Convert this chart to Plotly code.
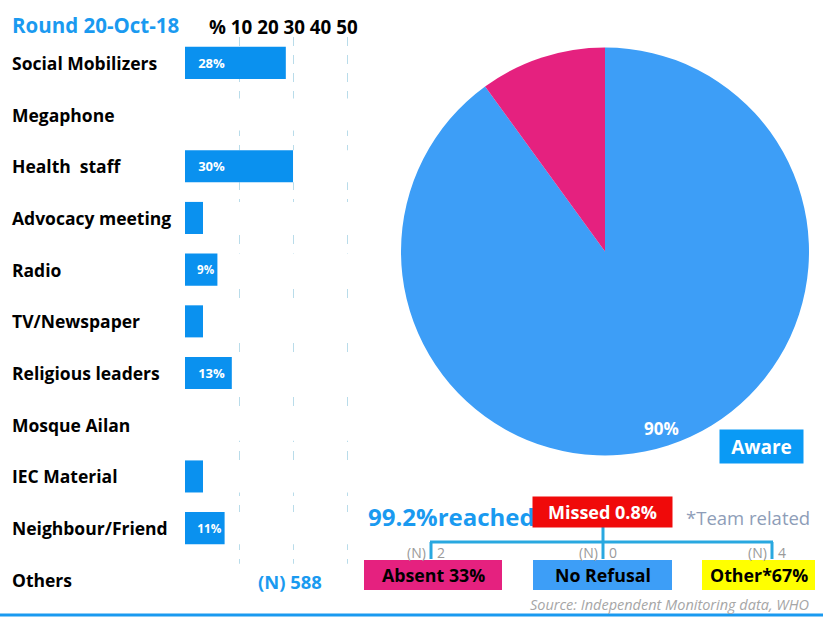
import plotly.graph_objects as go

W, H = 823, 618
def px(x): return x / W
def py(y): return 1 - y / H

# ---- data ----
channels = ["Social Mobilizers", "Megaphone", "Health  staff", "Advocacy meeting", "Radio",
            "TV/Newspaper", "Religious leaders", "Mosque Ailan", "IEC Material",
            "Neighbour/Friend", "Others"]
channel_pct = [28, 0, 30, 5, 9, 5, 13, 0, 5, 11, 0]
channel_lbl = ["28%", "", "30%", "", "9%", "", "13%", "", "", "11%", ""]
total_n = 588

aware_labels = ["Aware", "Not aware"]
aware_values = [90, 10]

reached_pct = 99.2
missed_pct = 0.8
missed_reasons = ["Absent", "No Refusal", "Other*"]
missed_share = ["33%", "", "67%"]
missed_n = [2, 0, 4]

BLUE = "#0a91ef"
TITLE_BLUE = "#1a9af0"
PIE_BLUE = "#3d9ef7"
MAGENTA = "#e5217f"
FONT = "Open Sans"

# row layout: pitch ~51.7 px starting at y=37; plot area stops at the last gap (y=564)
TOP, PITCH, BOTTOM = 37, 51.7, 564
y_end = -0.5 + (BOTTOM - TOP) / PITCH

fig = go.Figure()

# white row bands hide the dashed gridlines inside rows
fig.add_trace(go.Bar(y=channels[1:], x=[100] * (len(channels) - 1), orientation="h",
                     marker=dict(color="white", line_width=0), width=0.62,
                     hoverinfo="skip", showlegend=False))
fig.add_trace(go.Bar(y=channels, x=channel_pct, orientation="h",
                     marker=dict(color=BLUE, line_width=0), width=0.62,
                     text=["   " + t if t else "" for t in channel_lbl],
                     textposition="inside", insidetextanchor="start",
                     textfont=dict(color="white", size=13, family=FONT),
                     texttemplate="<b>%{text}</b>", cliponaxis=False,
                     showlegend=False))

fig.add_trace(go.Pie(labels=aware_labels, values=aware_values, sort=False,
                     direction="clockwise", rotation=0,
                     marker=dict(colors=[PIE_BLUE, MAGENTA], line_width=0),
                     textinfo="none", showlegend=False,
                     domain=dict(x=[px(401), px(809)], y=[py(457), py(46)])))

fig.update_layout(
    width=W, height=H, margin=dict(l=0, r=0, t=0, b=0),
    paper_bgcolor="white", plot_bgcolor="white", barmode="overlay",
    xaxis=dict(domain=[px(185), px(360)], range=[0, 48.6], dtick=15, tick0=0,
               showgrid=True, gridcolor="#b9dcea", griddash="dash", gridwidth=1,
               showticklabels=False, zeroline=False, showline=False),
    yaxis=dict(domain=[py(BOTTOM), py(TOP)], categoryorder="array",
               categoryarray=channels, range=[y_end, -0.5],
               showticklabels=False, showgrid=False, zeroline=False),
    font=dict(family=FONT),
)

ann = []
def note(x, y, text, size, color, xanchor="center", **kw):
    ann.append(dict(x=px(x), y=py(y), xref="paper", yref="paper", text=text,
                    showarrow=False, xanchor=xanchor, yanchor="middle",
                    font=dict(size=size, color=color, family=FONT), **kw))

for i, c in enumerate(channels):
    note(10, TOP + (i + 0.5) * PITCH, f"<b>{c}</b>", 17.5, "black", "left")

note(10, 25, "<b>Round 20-Oct-18</b>", 20.5, TITLE_BLUE, "left")
note(207, 27, "<b>% 10 20 30 40 50</b>", 18.8, "black", "left")
note(290, 581, f"<b>(N) {total_n}</b>", 18.4, TITLE_BLUE)

# pie labels
note(661, 428, f"<b>{aware_values[0]}%</b>", 17, "white")
note(761, 446, f"<b>{aware_labels[0]}</b>", 19, "white",
     bgcolor="#0a9af5", width=81, height=31)

# reached / missed
note(366, 516, f"<b>{reached_pct}%reached</b>", 24, TITLE_BLUE, "left")
note(602.5, 512, f"<b>Missed {missed_pct}%</b>", 18, "white",
     bgcolor="#f00a0a", width=137, height=28)
note(812, 517, "*Team related", 18.5, "#8e9db8", "right")

box_x = [(364, 502), (533, 672), (702, 815)]
box_col = [MAGENTA, PIE_BLUE, "#ffff00"]
stem_x = [431, 603, 772]
for i, r in enumerate(missed_reasons):
    x0, x1 = box_x[i]
    if missed_share[i]:
        label = f"{r}{missed_share[i]}" if r.endswith("*") else f"{r} {missed_share[i]}"
    else:
        label = r
    fig.add_shape(type="rect", xref="paper", yref="paper", x0=px(x0), x1=px(x1),
                  y0=py(590), y1=py(560), fillcolor=box_col[i], line_width=0,
                  layer="below")
    note((x0 + x1) / 2, 575, f"<b>{label}</b>", 17.8, "black")
    note(stem_x[i] - 3, 552, "(N)", 14, "#9a9a9a", "right")
    note(stem_x[i] + 4, 552, str(missed_n[i]), 14, "#9a9a9a", "left")
    fig.add_shape(type="line", xref="paper", yref="paper", x0=px(stem_x[i]), x1=px(stem_x[i]),
                  y0=py(542), y1=py(559), line=dict(color="#29a8e0", width=3))

fig.add_shape(type="line", xref="paper", yref="paper", x0=px(430), x1=px(773),
              y0=py(542), y1=py(542), line=dict(color="#29a8e0", width=3))
fig.add_shape(type="line", xref="paper", yref="paper", x0=px(603), x1=px(603),
              y0=py(527), y1=py(542), line=dict(color="#29a8e0", width=3))

note(811, 604, "<i>Source: Independent Monitoring data, WHO</i>", 14.5, "#a6a6a6", "right")

fig.add_shape(type="line", xref="paper", yref="paper", x0=0, x1=1,
              y0=py(615), y1=py(615), line=dict(color=TITLE_BLUE, width=3))

fig.update_layout(annotations=ann)
fig.write_html("out.html", post_script="document.body.style.margin='0';",
               config={"displayModeBar": False})
